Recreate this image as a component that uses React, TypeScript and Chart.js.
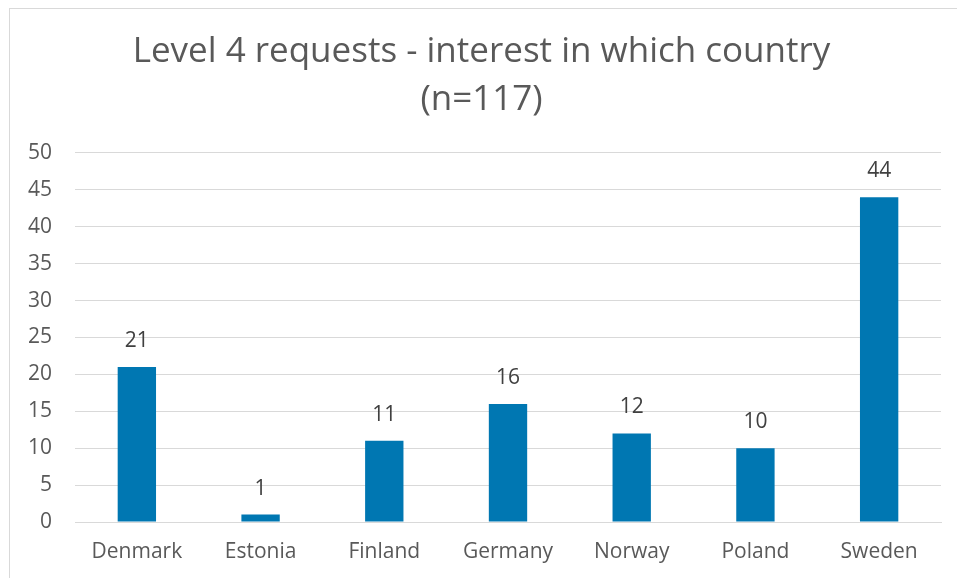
import React, { useEffect, useRef } from "react";
import { Chart, registerables } from "chart.js";

Chart.register(...registerables);

const titleLines = ["Level 4 requests - interest in which country", "(n=117)"];
const countries = ["Denmark", "Estonia", "Finland", "Germany", "Norway", "Poland", "Sweden"];
const requests = [21, 1, 11, 16, 12, 10, 44];
const yMin = 0;
const yMax = 50;
const yStep = 5;

const FONT = "'Open Sans', sans-serif";

const dataLabels = {
  id: "dataLabels",
  afterDatasetsDraw(chart: any) {
    const ctx = chart.ctx;
    const meta = chart.getDatasetMeta(0);
    ctx.save();
    ctx.font = `21px ${FONT}`;
    ctx.fillStyle = "#404040";
    ctx.textAlign = "center";
    ctx.textBaseline = "middle";
    meta.data.forEach((bar: any, i: number) => {
      ctx.fillText(String(chart.data.datasets[0].data[i]), bar.x, bar.y - 26);
    });
    ctx.restore();
  },
};

export default function App() {
  const ref = useRef<HTMLCanvasElement>(null);
  useEffect(() => {
    if (!ref.current) return;
    const chart = new Chart(ref.current, {
      type: "bar",
      data: {
        labels: countries,
        datasets: [
          {
            data: requests,
            backgroundColor: "#0077b2",
            borderWidth: 0,
            categoryPercentage: 1,
            barPercentage: 0.31,
          },
        ],
      },
      options: {
        animation: false,
        responsive: false,
        maintainAspectRatio: false,
        layout: { padding: { left: 22, right: 16, top: 0, bottom: 15 } },
        plugins: {
          legend: { display: false },
          tooltip: { enabled: false },
          title: {
            display: true,
            text: titleLines,
            color: "#595959",
            font: { family: FONT, size: 35, weight: "normal", lineHeight: 1.37 },
            padding: { top: 28, bottom: 29 },
          },
        },
        scales: {
          x: {
            grid: { display: false, drawTicks: false },
            border: { color: "#d9d9d9" },
            ticks: { color: "#595959", font: { family: FONT, size: 21 }, padding: 17 },
            afterFit: (s: any) => { s.height = 41; },
          },
          y: {
            min: yMin,
            max: yMax,
            grid: { color: "#d9d9d9", drawTicks: false },
            border: { display: false },
            ticks: { stepSize: yStep, color: "#595959", font: { family: FONT, size: 21 }, padding: 23 },
            afterFit: (s: any) => { s.width = 53; },
          },
        },
      },
      plugins: [dataLabels],
    });
    return () => chart.destroy();
  }, []);
  return (
    <div style={{ position: "absolute", left: 0, top: 0, width: 957, height: 578, overflow: "hidden", background: "#fff" }}>
      <div style={{ position: "absolute", left: 9, top: 8, width: 1000, height: 700, border: "1px solid #d9d9d9" }} />
      <canvas ref={ref} width={957} height={578} style={{ position: "absolute", left: 0, top: 0 }} />
    </div>
  );
}
